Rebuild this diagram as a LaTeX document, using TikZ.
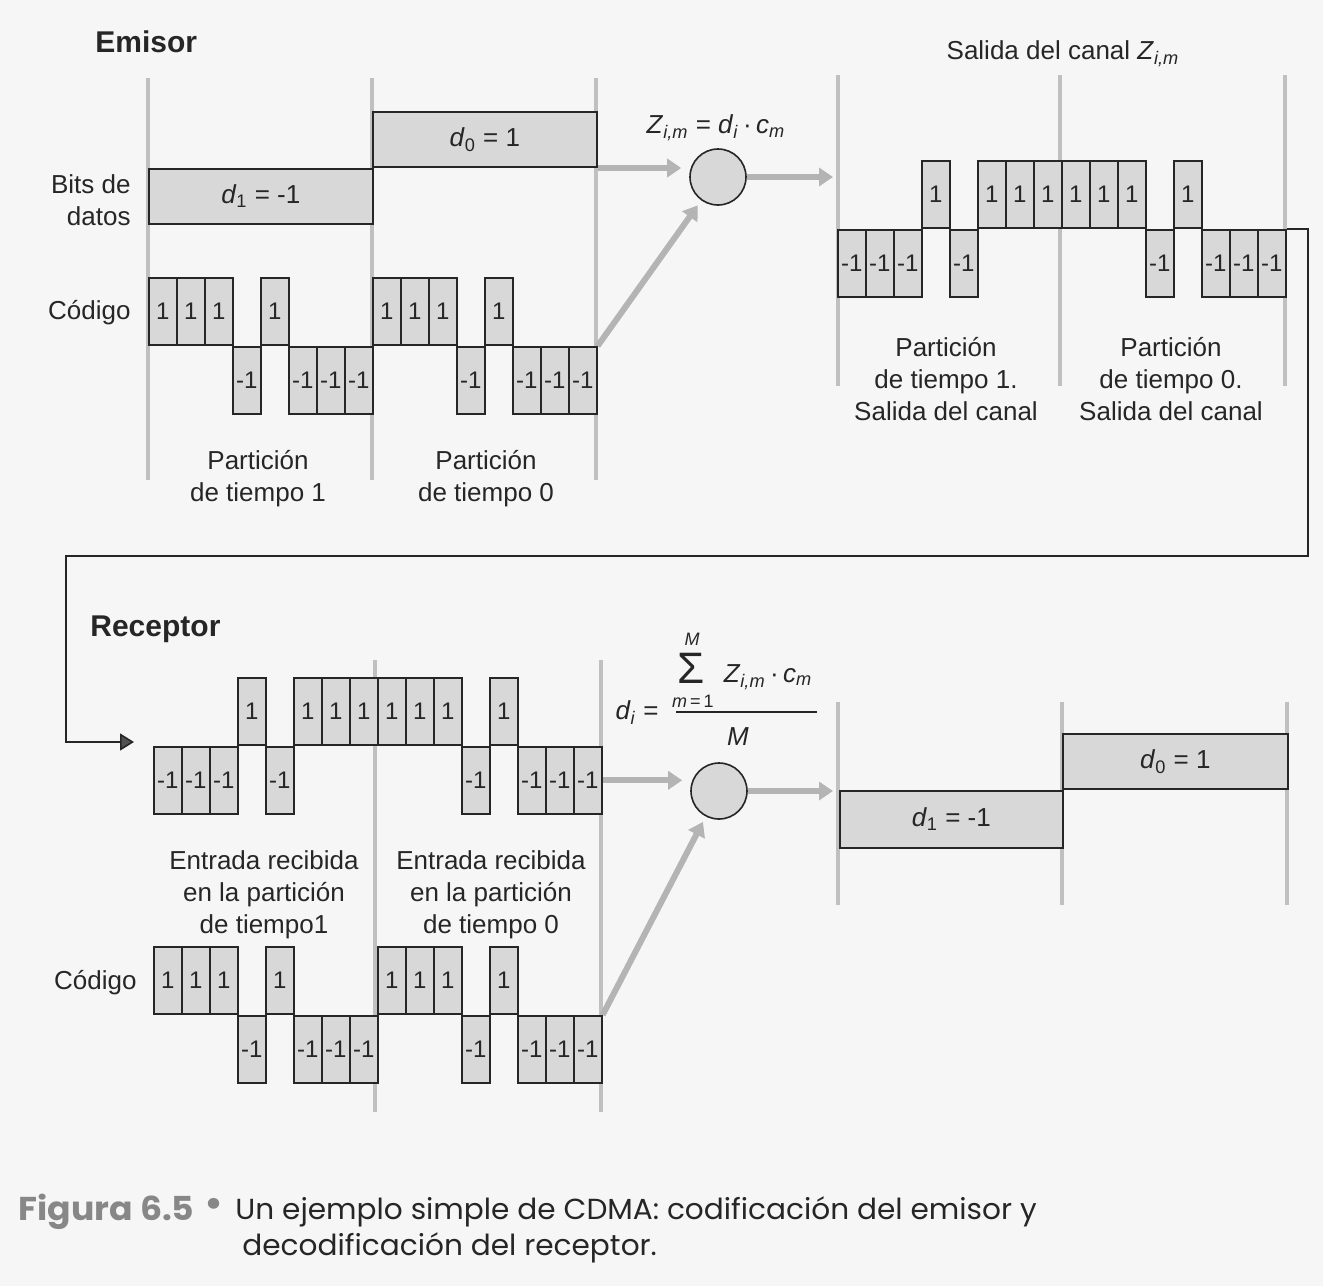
\documentclass[tikz,border=0pt]{standalone}
\usepackage{fontspec}
\setmainfont{Liberation Sans}
\newfontfamily\capfont{Poppins}[FakeStretch=1.02]
\newfontfamily\capboldfont{Poppins}[FakeStretch=1.05]
\usetikzlibrary{arrows.meta}
\definecolor{bg}{RGB}{246,246,246}
\definecolor{boxfill}{RGB}{216,216,216}
\definecolor{partgray}{RGB}{192,192,192}
\definecolor{arrgray}{RGB}{180,180,180}
\definecolor{ink}{RGB}{38,38,38}
\definecolor{capgray}{RGB}{135,135,135}
\tikzset{
  chipbox/.style={draw=ink, fill=boxfill, line width=0.8pt, minimum width=14pt,
    minimum height=33.5pt, inner sep=0pt, text=ink, font=\fontsize{12}{12}\selectfont},
  databox/.style={draw=ink, fill=boxfill, line width=0.8pt, inner sep=0pt, text=ink,
    font=\fontsize{13}{15}\selectfont},
  lbl/.style={font=\fontsize{13}{16}\selectfont, text=ink, align=center, inner sep=0pt},
  smalllbl/.style={font=\fontsize{9}{10}\selectfont, text=ink, inner sep=0pt},
  ttl/.style={font=\bfseries\fontsize{15}{18}\selectfont, text=ink, inner sep=0pt},
  partline/.style={draw=partgray, line width=2pt},
  garrow/.style={draw=arrgray, line width=3pt, -{Triangle[length=7pt,width=9pt,fill=arrgray]}},
  mixer/.style={circle, draw=ink, fill=boxfill, line width=0.8pt, minimum size=28pt, inner sep=0pt},
  blackline/.style={draw=ink, line width=0.8pt, -{Triangle[length=7pt,width=8.5pt,fill=ink!80]}},
}
\newcommand\chiprow[4]{%
  \foreach \v [count=\k] in {#4} {%
    \ifnum\v>0
      \node[chipbox, anchor=south west] (#1\k) at ({#2+(\k-1)*28}, #3) {1};
    \else
      \node[chipbox, anchor=north west] (#1\k) at ({#2+(\k-1)*28}, #3) {-1};
    \fi
  }%
}
\begin{document}
\begin{tikzpicture}[x=0.5pt,y=-0.5pt]
\useasboundingbox (0,0) rectangle (1323,1286);
\fill[bg] (0,0) rectangle (1323,1286);

% partition lines
\foreach \xx in {148,372,596} \draw[partline] (\xx,78) -- (\xx,480);
\foreach \xx in {838,1060,1285} \draw[partline] (\xx,75) -- (\xx,386);
\foreach \xx in {375,601} \draw[partline] (\xx,660) -- (\xx,1112);
\foreach \xx in {838,1062,1287} \draw[partline] (\xx,702) -- (\xx,905);

% ===== Emisor =====
\node[ttl, anchor=west] (emisor) at (95,42) {Emisor};
\node[lbl, align=right, anchor=east] (bits) at (131,200) {Bits de\\datos};
\node[lbl, anchor=east] (codE) at (131,313) {Código};

\node[databox, minimum width=112pt, minimum height=27.5pt, anchor=north west] (d1e) at (148,168)
  {\textit{d}\textsubscript{1} = -1};
\node[databox, minimum width=112pt, minimum height=27.5pt, anchor=south west] (d0e) at (372,168)
  {\textit{d}\textsubscript{0} = 1};

\chiprow{ec}{148}{346}{1,1,1,-1,1,-1,-1,-1,1,1,1,-1,1,-1,-1,-1}

\node[lbl] (pt1) at (258,479) {Partición\\de tiempo 1};
\node[lbl] (pt0) at (486,479) {Partición\\de tiempo 0};

% mixer emisor
\node[mixer] (circE) at (718,177) {};
\node[lbl] (zform) at (716,128) {\textit{Z}\textsubscript{\textit{i,m}} = \textit{d}\textsubscript{\textit{i}}\,·\,\textit{c}\textsubscript{\textit{m}}};
\coordinate (chanIn) at (833,177);
\draw[garrow, shorten >=4pt] (d0e.south east) -- (d0e.south east -| circE.west);
\draw[garrow, shorten >=3pt] (ec16.north east) -- (circE);
\draw[garrow] (circE.east) -- (chanIn);

% channel output
\node[lbl] (salida) at (1063,54) {Salida del canal \textit{Z}\textsubscript{\textit{i,m}}};
\chiprow{co}{837}{229}{-1,-1,-1,1,-1,1,1,1,1,1,1,-1,1,-1,-1,-1}
\node[lbl] (so1) at (946,379) {Partición\\de tiempo 1.\\Salida del canal};
\node[lbl] (so0) at (1171,379) {Partición\\de tiempo 0.\\Salida del canal};

% connector to receiver
\coordinate (recvIn) at (134,742);
\draw[blackline] (co16.north east) -- (1308,229) -- (1308,556) -- (66,556) -- (66,742) -- (recvIn);

% ===== Receptor =====
\node[ttl, anchor=west] (receptor) at (90,629) {Receptor};
\chiprow{rc}{153}{746}{-1,-1,-1,1,-1,1,1,1,1,1,1,-1,1,-1,-1,-1}
\node[lbl] (er1) at (264,895) {Entrada recibida\\en la partición\\de tiempo1};
\node[lbl] (er0) at (491,895) {Entrada recibida\\en la partición\\de tiempo 0};
\node[lbl, anchor=east] (codR) at (137,983) {Código};
\chiprow{rk}{153}{1015}{1,1,1,-1,1,-1,-1,-1,1,1,1,-1,1,-1,-1,-1}

% mixer receptor
\node[mixer] (circR) at (719,791) {};
\coordinate (decIn) at (833,791);
\draw[garrow, shorten >=4pt] (rc16.east) -- (rc16.east -| circR.west);
\draw[garrow, shorten >=3pt] (rk16.north east) -- (circR);
\draw[garrow] (circR.east) -- (decIn);

% decoding formula
\node[lbl] (fd) at (637,713) {\textit{d}\textsubscript{\textit{i}} =};
\node[inner sep=0pt, text=ink, font=\fontsize{22}{24}\selectfont] (fsum) at (691,668) {Σ};
\node[smalllbl] (fM) at (692,639) {\textit{M}};
\node[smalllbl] (fm) at (693,701) {\textit{m}\,=\,1};
\node[lbl] (fnum) at (768,677) {\textit{Z}\textsubscript{\textit{i,m}}\,·\,\textit{c}\textsubscript{\textit{m}}};
\coordinate (fbarL) at (676,712);
\coordinate (fbarR) at (817,712);
\draw[ink, line width=0.8pt] (fbarL) -- (fbarR);
\node[lbl] (fden) at (738,737) {\textit{M}};

% decoded data
\node[databox, minimum width=111.5pt, minimum height=28.5pt, anchor=north west] (d1r) at (839,790)
  {\textit{d}\textsubscript{1} = -1};
\node[databox, minimum width=112.5pt, minimum height=27.5pt, anchor=south west] (d0r) at (1062,790)
  {\textit{d}\textsubscript{0} = 1};

% ===== caption =====
\node[inner sep=0pt, anchor=west, text=capgray, font=\capboldfont\bfseries\fontsize{16.5}{18}\selectfont] (capfig) at (18,1212) {Figura 6.5};
\node[inner sep=0pt, text=capgray, font=\capboldfont\fontsize{22}{22}\selectfont] (capdot) at (214,1208) {•};
\node[inner sep=0pt, anchor=west, text=ink, font=\capfont\fontsize{14.5}{18}\selectfont] (cap1) at (235,1212) {Un ejemplo simple de CDMA: codificación del emisor y};
\node[inner sep=0pt, anchor=west, text=ink, font=\capfont\fontsize{14.5}{18}\selectfont] (cap2) at (242,1248) {decodificación del receptor.};
\end{tikzpicture}
\end{document}
